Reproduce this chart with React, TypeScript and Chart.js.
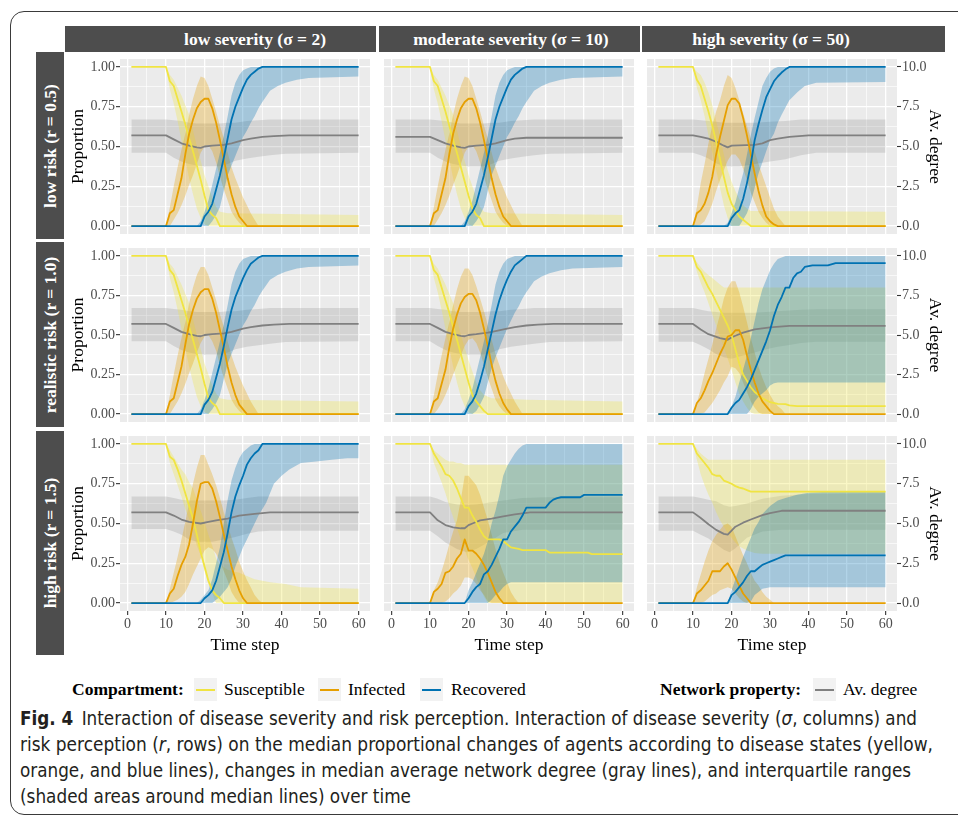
import React, { useEffect, useLayoutEffect, useRef } from "react";
import { Chart, registerables } from "chart.js";
Chart.register(...registerables);

type P = [number, number];
type B = [number, number, number];

// ---------- labels / ticks ----------
const COLUMN_LABELS = ["low severity (σ = 2)", "moderate severity (σ = 10)", "high severity (σ = 50)"];
const ROW_LABELS = ["low risk (r = 0.5)", "realistic risk (r = 1.0)", "high risk (r = 1.5)"];
const X_MAJOR = [0, 10, 20, 30, 40, 50, 60];
const X_MINOR = [5, 15, 25, 35, 45, 55];
const X_TICK_LABELS = ["0", "10", "20", "30", "40", "50", "60"];
const Y_MAJOR = [0, 0.25, 0.5, 0.75, 1];
const Y_MINOR = [0.125, 0.375, 0.625, 0.875];
const Y_TICK_LABELS = ["0.00", "0.25", "0.50", "0.75", "1.00"];
const Y2_MAJOR = [0, 2.5, 5, 7.5, 10];
const Y2_TICK_LABELS = ["0.0", "2.5", "5.0", "7.5", "10.0"];
const X_TITLE = "Time step";
const Y_TITLE = "Proportion";
const Y2_TITLE = "Av. degree";
const SERIES_NAMES = ["Susceptible", "Infected", "Recovered"];
const NETWORK_NAMES = ["Av. degree"];

// ---------- panel r = 0.5, sigma = 2 ----------
const S_r05_s2: P[] = [[1,1],[10,1],[11,0.91],[12,0.88],[13,0.8],[14,0.72],[15,0.64],[16,0.55],[17,0.47],[18,0.38],[19,0.29],[20,0.19],[21,0.1],[22,0.07],[23,0.05],[24,0],[60,0]];
const Sb_r05_s2: B[] = [[1,1,1],[10,1,1],[11,0.86,0.95],[12,0.77,0.92],[13,0.66,0.87],[14,0.54,0.82],[15,0.42,0.76],[16,0.3,0.7],[17,0.2,0.6],[18,0.11,0.5],[19,0.05,0.41],[20,0.01,0.32],[21,0,0.25],[22,0,0.18],[23,0,0.12],[24,0,0.09],[26,0,0.08],[60,0,0.07]];
const I_r05_s2: P[] = [[1,0],[10,0],[11,0.08],[12,0.1],[13,0.2],[14,0.3],[15,0.45],[16,0.58],[17,0.67],[18,0.74],[19,0.78],[20,0.8],[21,0.8],[22,0.74],[23,0.65],[24,0.54],[25,0.42],[26,0.3],[27,0.2],[28,0.12],[29,0.06],[30,0.03],[31,0],[60,0]];
const Ib_r05_s2: B[] = [[1,0,0],[10,0,0],[11,0,0.12],[12,0.04,0.25],[13,0.08,0.37],[14,0.13,0.48],[15,0.19,0.58],[16,0.26,0.7],[17,0.32,0.8],[18,0.39,0.88],[19,0.46,0.94],[20,0.5,0.93],[21,0.51,0.88],[22,0.47,0.8],[23,0.4,0.72],[24,0.31,0.63],[25,0.23,0.55],[26,0.16,0.46],[27,0.09,0.37],[28,0.05,0.3],[29,0.02,0.24],[30,0,0.18],[31,0,0.13],[32,0,0.08],[33,0,0.04],[34,0,0],[60,0,0]];
const R_r05_s2: P[] = [[1,0],[19,0],[20,0.06],[21,0.09],[22,0.14],[23,0.23],[24,0.32],[25,0.43],[26,0.55],[27,0.67],[28,0.75],[29,0.81],[30,0.87],[31,0.92],[32,0.95],[33,0.97],[34,0.99],[35,1],[60,1]];
const Rb_r05_s2: B[] = [[1,0,0],[18,0,0],[19,0,0.03],[20,0,0.09],[21,0,0.16],[22,0.03,0.26],[23,0.07,0.36],[24,0.12,0.46],[25,0.22,0.57],[26,0.32,0.69],[27,0.38,0.82],[28,0.44,0.9],[29,0.5,0.95],[30,0.56,0.98],[31,0.6,0.99],[32,0.65,1],[33,0.69,1],[34,0.74,1],[35,0.78,1],[37,0.85,1],[39,0.88,1],[41,0.9,1],[44,0.92,1],[47,0.93,1],[60,0.94,1]];
const D_r05_s2: P[] = [[1,5.7],[10,5.7],[12,5.45],[14,5.2],[16,5.05],[18,4.95],[19,4.92],[20,5.0],[22,5.05],[25,5.1],[27,5.2],[30,5.4],[32,5.5],[35,5.6],[38,5.65],[42,5.7],[60,5.7]];
const Db_r05_s2: B[] = [[1,4.6,6.7],[10,4.6,6.7],[12,4.3,6.65],[14,4.05,6.6],[16,3.9,6.5],[18,3.8,6.45],[20,3.75,6.45],[24,3.75,6.45],[26,3.9,6.5],[28,4.1,6.5],[31,4.25,6.6],[34,4.35,6.65],[37,4.45,6.7],[41,4.55,6.7],[60,4.6,6.7]];

// ---------- panel r = 0.5, sigma = 10 ----------
const S_r05_s10: P[] = [[1,1],[10,1],[11,0.91],[12,0.88],[13,0.8],[14,0.72],[15,0.63],[16,0.54],[17,0.46],[18,0.37],[19,0.28],[20,0.19],[21,0.11],[22,0.07],[23,0.05],[24,0],[60,0]];
const Sb_r05_s10: B[] = [[1,1,1],[10,1,1],[11,0.86,0.95],[12,0.77,0.92],[13,0.66,0.87],[14,0.54,0.82],[15,0.42,0.76],[16,0.3,0.7],[17,0.2,0.6],[18,0.11,0.5],[19,0.05,0.41],[20,0.01,0.32],[21,0,0.25],[22,0,0.18],[23,0,0.12],[24,0,0.09],[26,0,0.08],[60,0,0.07]];
const I_r05_s10: P[] = [[1,0],[10,0],[11,0.08],[12,0.1],[13,0.2],[14,0.3],[15,0.45],[16,0.58],[17,0.67],[18,0.74],[19,0.78],[20,0.8],[21,0.8],[22,0.74],[23,0.65],[24,0.54],[25,0.42],[26,0.3],[27,0.2],[28,0.12],[29,0.06],[30,0.03],[31,0],[60,0]];
const Ib_r05_s10: B[] = [[1,0,0],[10,0,0],[11,0,0.12],[12,0.04,0.25],[13,0.08,0.37],[14,0.13,0.48],[15,0.19,0.58],[16,0.26,0.7],[17,0.32,0.8],[18,0.39,0.88],[19,0.46,0.94],[20,0.5,0.93],[21,0.51,0.88],[22,0.47,0.8],[23,0.4,0.72],[24,0.31,0.63],[25,0.23,0.55],[26,0.16,0.46],[27,0.09,0.37],[28,0.05,0.3],[29,0.02,0.24],[30,0,0.18],[31,0,0.13],[32,0,0.08],[33,0,0.04],[34,0,0],[60,0,0]];
const R_r05_s10: P[] = [[1,0],[19,0],[20,0.06],[21,0.09],[22,0.14],[23,0.23],[24,0.32],[25,0.43],[26,0.55],[27,0.67],[28,0.75],[29,0.81],[30,0.87],[31,0.92],[32,0.95],[33,0.97],[34,0.99],[35,1],[60,1]];
const Rb_r05_s10: B[] = [[1,0,0],[18,0,0],[19,0,0.03],[20,0,0.09],[21,0,0.16],[22,0.03,0.26],[23,0.07,0.36],[24,0.12,0.46],[25,0.22,0.57],[26,0.32,0.69],[27,0.38,0.82],[28,0.44,0.9],[29,0.5,0.95],[30,0.56,0.98],[31,0.6,0.99],[32,0.65,1],[33,0.69,1],[34,0.74,1],[35,0.78,1],[37,0.85,1],[39,0.88,1],[41,0.9,1],[44,0.92,1],[47,0.93,1],[60,0.94,1]];
const D_r05_s10: P[] = [[1,5.6],[10,5.6],[12,5.4],[14,5.2],[16,5.05],[18,4.95],[19,4.92],[20,5.0],[22,5.05],[25,5.1],[27,5.2],[30,5.4],[32,5.5],[35,5.55],[60,5.55]];
const Db_r05_s10: B[] = [[1,4.6,6.7],[10,4.6,6.7],[12,4.3,6.65],[14,4.05,6.6],[16,3.9,6.5],[18,3.8,6.45],[20,3.75,6.45],[24,3.75,6.45],[26,3.9,6.5],[28,4.1,6.5],[31,4.25,6.6],[34,4.35,6.65],[37,4.45,6.7],[41,4.55,6.7],[60,4.6,6.7]];

// ---------- panel r = 0.5, sigma = 50 ----------
const S_r05_s50: P[] = [[1,1],[10,1],[11,0.92],[12,0.88],[13,0.8],[14,0.72],[15,0.63],[16,0.53],[17,0.42],[18,0.31],[19,0.21],[20,0.14],[21,0.1],[22,0.06],[23,0.04],[24,0.02],[25,0],[60,0]];
const Sb_r05_s50: B[] = [[1,1,1],[10,1,1],[11,0.87,0.97],[12,0.79,0.95],[13,0.69,0.9],[14,0.57,0.84],[15,0.46,0.76],[16,0.35,0.66],[17,0.24,0.56],[18,0.13,0.45],[19,0.05,0.35],[20,0,0.28],[21,0,0.22],[22,0,0.17],[23,0,0.13],[24,0,0.11],[25,0,0.095],[60,0,0.09]];
const I_r05_s50: P[] = [[1,0],[10,0],[11,0.08],[12,0.1],[13,0.14],[14,0.21],[15,0.31],[16,0.45],[17,0.56],[18,0.66],[19,0.76],[20,0.8],[21,0.8],[22,0.77],[23,0.68],[24,0.57],[25,0.45],[26,0.33],[27,0.22],[28,0.13],[29,0.06],[30,0.03],[31,0.01],[32,0],[60,0]];
const Ib_r05_s50: B[] = [[1,0,0],[10,0,0],[11,0,0.12],[12,0.01,0.27],[13,0.03,0.39],[14,0.08,0.52],[15,0.14,0.63],[16,0.22,0.72],[17,0.29,0.79],[18,0.35,0.88],[19,0.41,0.95],[20,0.45,0.93],[21,0.45,0.87],[22,0.42,0.79],[23,0.36,0.71],[24,0.29,0.63],[25,0.21,0.55],[26,0.15,0.47],[27,0.09,0.39],[28,0.05,0.32],[29,0.02,0.25],[30,0,0.18],[31,0,0.11],[32,0,0.06],[33,0,0.03],[34,0,0],[60,0,0]];
const R_r05_s50: P[] = [[1,0],[19,0],[20,0.05],[21,0.08],[22,0.1],[23,0.17],[24,0.27],[25,0.39],[26,0.54],[27,0.64],[28,0.73],[29,0.81],[30,0.86],[31,0.91],[32,0.94],[33,0.965],[34,0.985],[35,1],[60,1]];
const Rb_r05_s50: B[] = [[1,0,0],[18,0,0],[19,0,0.02],[20,0,0.08],[21,0,0.15],[22,0,0.24],[23,0.04,0.33],[24,0.08,0.45],[25,0.15,0.57],[26,0.24,0.68],[27,0.33,0.78],[28,0.4,0.88],[29,0.47,0.93],[30,0.54,0.97],[31,0.58,0.99],[32,0.65,1],[33,0.7,1],[35,0.79,1],[37,0.84,1],[39,0.88,1],[42,0.9,1],[60,0.906,1]];
const D_r05_s50: P[] = [[1,5.7],[10,5.7],[12,5.6],[14,5.5],[16,5.3],[18,5.05],[19,4.95],[20,5.05],[22,5.07],[26,5.1],[28,5.2],[30,5.4],[32,5.5],[35,5.6],[40,5.7],[60,5.7]];
const Db_r05_s50: B[] = [[1,4.6,6.7],[10,4.6,6.7],[12,4.45,6.65],[14,4.25,6.6],[16,3.95,6.55],[18,3.75,6.5],[22,3.75,6.5],[26,3.9,6.5],[30,4.05,6.55],[34,4.2,6.6],[38,4.45,6.7],[42,4.6,6.7],[60,4.6,6.7]];

// ---------- panel r = 1.0, sigma = 2 ----------
const S_r10_s2: P[] = [[1,1],[10,1],[11,0.91],[12,0.88],[13,0.8],[14,0.72],[15,0.64],[16,0.55],[17,0.47],[18,0.38],[19,0.29],[20,0.19],[21,0.1],[22,0.07],[23,0.05],[24,0],[60,0]];
const Sb_r10_s2: B[] = [[1,1,1],[10,1,1],[11,0.86,0.95],[12,0.77,0.92],[13,0.66,0.87],[14,0.54,0.82],[15,0.42,0.76],[16,0.3,0.7],[17,0.2,0.6],[18,0.11,0.5],[19,0.05,0.41],[20,0.01,0.32],[21,0,0.25],[22,0,0.18],[23,0,0.13],[24,0,0.1],[26,0,0.09],[60,0,0.08]];
const I_r10_s2: P[] = [[1,0],[10,0],[11,0.08],[12,0.1],[13,0.2],[14,0.3],[15,0.44],[16,0.57],[17,0.66],[18,0.73],[19,0.77],[20,0.79],[21,0.79],[22,0.73],[23,0.64],[24,0.53],[25,0.42],[26,0.3],[27,0.2],[28,0.12],[29,0.06],[30,0.03],[31,0],[60,0]];
const Ib_r10_s2: B[] = [[1,0,0],[10,0,0],[11,0,0.12],[12,0.04,0.25],[13,0.08,0.37],[14,0.13,0.48],[15,0.19,0.58],[16,0.26,0.7],[17,0.32,0.8],[18,0.39,0.88],[19,0.45,0.93],[20,0.49,0.93],[21,0.5,0.88],[22,0.46,0.8],[23,0.4,0.72],[24,0.31,0.63],[25,0.23,0.55],[26,0.16,0.46],[27,0.09,0.37],[28,0.05,0.3],[29,0.02,0.24],[30,0,0.18],[31,0,0.13],[32,0,0.08],[33,0,0.04],[34,0,0],[60,0,0]];
const R_r10_s2: P[] = [[1,0],[19,0],[20,0.06],[21,0.09],[22,0.14],[23,0.23],[24,0.32],[25,0.43],[26,0.55],[27,0.66],[28,0.74],[29,0.8],[30,0.86],[31,0.91],[32,0.95],[33,0.97],[34,0.99],[35,1],[60,1]];
const Rb_r10_s2: B[] = [[1,0,0],[18,0,0],[19,0,0.03],[20,0,0.09],[21,0,0.16],[22,0.03,0.26],[23,0.07,0.36],[24,0.12,0.46],[25,0.22,0.57],[26,0.32,0.69],[27,0.38,0.82],[28,0.44,0.9],[29,0.5,0.95],[30,0.56,0.98],[31,0.6,0.99],[32,0.65,1],[33,0.69,1],[34,0.74,1],[35,0.78,1],[37,0.85,1],[39,0.88,1],[41,0.9,1],[44,0.92,1],[47,0.93,1],[60,0.94,1]];
const D_r10_s2: P[] = [[1,5.7],[10,5.7],[12,5.45],[14,5.2],[16,5.05],[18,4.95],[19,4.92],[20,5.0],[22,5.05],[25,5.1],[27,5.2],[30,5.4],[32,5.5],[35,5.6],[38,5.65],[42,5.7],[60,5.7]];
const Db_r10_s2: B[] = [[1,4.6,6.7],[10,4.6,6.7],[12,4.3,6.65],[14,4.05,6.6],[16,3.9,6.5],[18,3.8,6.45],[20,3.75,6.45],[24,3.75,6.45],[26,3.9,6.5],[28,4.1,6.5],[31,4.25,6.6],[34,4.35,6.65],[37,4.45,6.7],[41,4.55,6.7],[60,4.6,6.7]];

// ---------- panel r = 1.0, sigma = 10 ----------
const S_r10_s10: P[] = [[1,1],[10,1],[11,0.91],[12,0.88],[13,0.8],[14,0.72],[15,0.64],[16,0.55],[17,0.47],[18,0.38],[19,0.29],[20,0.2],[21,0.12],[22,0.08],[23,0.05],[24,0.02],[25,0],[60,0]];
const Sb_r10_s10: B[] = [[1,1,1],[10,1,1],[11,0.86,0.95],[12,0.77,0.92],[13,0.66,0.87],[14,0.54,0.82],[15,0.42,0.76],[16,0.3,0.7],[17,0.2,0.6],[18,0.11,0.5],[19,0.05,0.42],[20,0.01,0.34],[21,0,0.27],[22,0,0.2],[23,0,0.15],[24,0,0.12],[26,0,0.1],[35,0,0.09],[60,0,0.08]];
const I_r10_s10: P[] = [[1,0],[10,0],[11,0.08],[12,0.1],[13,0.19],[14,0.28],[15,0.42],[16,0.54],[17,0.63],[18,0.7],[19,0.74],[20,0.76],[21,0.76],[22,0.72],[23,0.64],[24,0.54],[25,0.43],[26,0.31],[27,0.21],[28,0.13],[29,0.07],[30,0.03],[31,0],[60,0]];
const Ib_r10_s10: B[] = [[1,0,0],[10,0,0],[11,0,0.12],[12,0.03,0.25],[13,0.07,0.37],[14,0.12,0.48],[15,0.18,0.58],[16,0.25,0.69],[17,0.31,0.79],[18,0.37,0.87],[19,0.43,0.92],[20,0.47,0.92],[21,0.48,0.88],[22,0.45,0.81],[23,0.39,0.73],[24,0.31,0.65],[25,0.23,0.56],[26,0.16,0.47],[27,0.09,0.38],[28,0.05,0.31],[29,0.02,0.24],[30,0,0.18],[31,0,0.13],[32,0,0.08],[33,0,0.04],[34,0,0],[60,0,0]];
const R_r10_s10: P[] = [[1,0],[19,0],[20,0.05],[21,0.08],[22,0.13],[23,0.21],[24,0.3],[25,0.41],[26,0.52],[27,0.63],[28,0.72],[29,0.79],[30,0.85],[31,0.9],[32,0.94],[33,0.96],[34,0.98],[35,1],[60,1]];
const Rb_r10_s10: B[] = [[1,0,0],[18,0,0],[19,0,0.03],[20,0,0.09],[21,0,0.16],[22,0.02,0.26],[23,0.06,0.36],[24,0.11,0.46],[25,0.2,0.57],[26,0.29,0.69],[27,0.36,0.82],[28,0.42,0.9],[29,0.48,0.95],[30,0.54,0.98],[31,0.59,0.99],[32,0.64,1],[33,0.68,1],[34,0.73,1],[35,0.77,1],[37,0.84,1],[39,0.87,1],[41,0.89,1],[44,0.91,1],[47,0.92,1],[60,0.93,1]];
const D_r10_s10: P[] = [[1,5.7],[10,5.7],[12,5.45],[14,5.2],[16,5.05],[18,4.95],[19,4.92],[20,5.0],[22,5.05],[25,5.15],[27,5.25],[30,5.4],[32,5.5],[35,5.6],[38,5.65],[42,5.7],[60,5.7]];
const Db_r10_s10: B[] = [[1,4.6,6.7],[10,4.6,6.7],[12,4.3,6.65],[14,4.05,6.6],[16,3.9,6.5],[18,3.8,6.45],[20,3.75,6.45],[24,3.75,6.45],[26,3.9,6.5],[28,4.1,6.5],[31,4.25,6.6],[34,4.35,6.65],[37,4.45,6.7],[41,4.55,6.7],[60,4.6,6.7]];

// ---------- panel r = 1.0, sigma = 50 ----------
const S_r10_s50: P[] = [[1,1],[10,1],[11,0.93],[12,0.9],[13,0.85],[14,0.8],[15,0.76],[16,0.71],[17,0.66],[18,0.61],[19,0.56],[20,0.5],[21,0.41],[22,0.32],[23,0.25],[24,0.21],[25,0.17],[26,0.14],[27,0.12],[28,0.1],[30,0.075],[32,0.065],[34,0.063],[35,0.055],[37,0.05],[60,0.05]];
const Sb_r10_s50: B[] = [[1,1,1],[10,1,1],[11,0.9,0.96],[12,0.83,0.93],[13,0.77,0.9],[14,0.7,0.88],[15,0.63,0.86],[16,0.56,0.84],[17,0.49,0.82],[18,0.42,0.8],[19,0.35,0.8],[20,0.28,0.8],[21,0.2,0.8],[22,0.13,0.8],[23,0.08,0.8],[24,0.04,0.8],[25,0.01,0.8],[26,0,0.8],[60,0,0.8]];
const I_r10_s50: P[] = [[1,0],[10,0],[11,0.07],[12,0.1],[13,0.15],[14,0.21],[15,0.26],[16,0.32],[17,0.38],[18,0.43],[19,0.49],[20,0.5],[21,0.53],[22,0.53],[23,0.47],[24,0.37],[25,0.28],[26,0.2],[27,0.13],[28,0.08],[29,0.05],[30,0.02],[31,0],[60,0]];
const Ib_r10_s50: B[] = [[1,0,0],[10,0,0],[11,0,0.07],[12,0,0.16],[13,0.01,0.26],[14,0.04,0.35],[15,0.07,0.44],[16,0.11,0.54],[17,0.15,0.63],[18,0.2,0.73],[19,0.24,0.8],[20,0.3,0.84],[21,0.29,0.84],[22,0.26,0.77],[23,0.2,0.68],[24,0.14,0.58],[25,0.08,0.48],[26,0.04,0.39],[27,0.01,0.3],[28,0,0.23],[29,0,0.17],[30,0,0.12],[31,0,0.08],[32,0,0.05],[33,0,0.03],[34,0,0],[60,0,0]];
const R_r10_s50: P[] = [[1,0],[19,0],[20,0.04],[21,0.07],[22,0.09],[23,0.13],[24,0.17],[25,0.22],[26,0.28],[27,0.34],[28,0.4],[29,0.46],[30,0.53],[31,0.62],[32,0.69],[33,0.74],[34,0.8],[35,0.8],[36,0.86],[37,0.89],[38,0.9],[39,0.93],[41,0.94],[45,0.94],[47,0.955],[60,0.955]];
const Rb_r10_s50: B[] = [[1,0,0],[19,0,0],[20,0,0.05],[21,0,0.11],[22,0,0.2],[23,0,0.28],[24,0,0.37],[25,0.03,0.48],[26,0.08,0.59],[27,0.11,0.7],[28,0.13,0.79],[29,0.15,0.85],[30,0.18,0.91],[31,0.195,0.95],[32,0.2,0.98],[34,0.2,1],[60,0.2,1]];
const D_r10_s50: P[] = [[1,5.7],[10,5.7],[12,5.35],[14,5.05],[17,4.8],[19,4.7],[20,4.85],[21,4.95],[23,5.15],[26,5.35],[30,5.48],[35,5.58],[60,5.58]];
const Db_r10_s50: B[] = [[1,4.58,6.7],[10,4.58,6.7],[12,4.35,6.6],[14,4.1,6.5],[16,3.8,6.45],[18,3.6,6.4],[20,3.5,6.4],[23,3.7,6.4],[26,3.9,6.4],[29,4.1,6.45],[32,4.25,6.5],[35,4.37,6.55],[38,4.5,6.6],[42,4.58,6.62],[60,4.58,6.62]];

// ---------- panel r = 1.5, sigma = 2 ----------
const S_r15_s2: P[] = [[1,1],[10,1],[11,0.92],[12,0.9],[13,0.84],[14,0.77],[15,0.69],[16,0.61],[17,0.53],[18,0.43],[19,0.32],[20,0.23],[21,0.14],[22,0.08],[23,0.05],[24,0.03],[25,0],[60,0]];
const Sb_r15_s2: B[] = [[1,1,1],[10,1,1],[11,0.88,0.96],[12,0.81,0.92],[13,0.74,0.88],[14,0.67,0.84],[15,0.59,0.81],[16,0.53,0.76],[17,0.45,0.72],[18,0.36,0.65],[19,0.3,0.58],[20,0.2,0.51],[21,0.12,0.43],[22,0.06,0.36],[23,0,0.28],[24,0,0.24],[26,0,0.21],[29,0,0.19],[33,0,0.15],[37,0,0.13],[41,0,0.12],[45,0,0.1],[60,0,0.09]];
const I_r15_s2: P[] = [[1,0],[10,0],[11,0.06],[12,0.09],[13,0.17],[14,0.24],[15,0.29],[16,0.37],[17,0.5],[18,0.64],[19,0.75],[20,0.76],[21,0.76],[22,0.72],[23,0.64],[24,0.54],[25,0.43],[26,0.33],[27,0.23],[28,0.15],[29,0.08],[30,0.03],[31,0],[60,0]];
const Ib_r15_s2: B[] = [[1,0,0],[10,0,0],[11,0,0.09],[12,0.01,0.19],[13,0.02,0.29],[14,0.04,0.4],[15,0.07,0.51],[16,0.12,0.63],[17,0.18,0.75],[18,0.23,0.85],[19,0.28,0.93],[20,0.33,0.93],[21,0.35,0.87],[22,0.34,0.81],[23,0.31,0.74],[24,0.26,0.66],[25,0.2,0.57],[26,0.14,0.49],[27,0.07,0.41],[28,0.03,0.34],[29,0,0.26],[30,0,0.2],[31,0,0.145],[32,0,0.1],[33,0,0.05],[34,0,0.02],[35,0,0],[60,0,0]];
const R_r15_s2: P[] = [[1,0],[19,0],[20,0.03],[21,0.05],[22,0.08],[23,0.14],[24,0.23],[25,0.32],[26,0.44],[27,0.57],[28,0.67],[29,0.74],[30,0.8],[31,0.87],[32,0.91],[33,0.94],[34,0.96],[35,1],[60,1]];
const Rb_r15_s2: B[] = [[1,0,0],[18,0,0],[19,0,0.02],[20,0,0.05],[21,0,0.08],[22,0,0.15],[23,0.02,0.25],[24,0.04,0.35],[25,0.07,0.5],[26,0.1,0.65],[27,0.15,0.77],[28,0.23,0.85],[29,0.29,0.91],[30,0.35,0.95],[31,0.4,0.97],[32,0.45,0.99],[33,0.5,1],[34,0.55,1],[36,0.63,1],[38,0.75,1],[40,0.8,1],[42,0.84,1],[45,0.88,1],[49,0.89,1],[53,0.9,1],[57,0.91,1],[60,0.91,1]];
const D_r15_s2: P[] = [[1,5.7],[10,5.7],[12,5.5],[14,5.25],[16,5.1],[19,5.0],[21,5.1],[23,5.2],[26,5.3],[29,5.5],[33,5.6],[37,5.7],[60,5.7]];
const Db_r15_s2: B[] = [[1,4.65,6.7],[10,4.65,6.7],[12,4.5,6.6],[14,4.3,6.5],[16,4.0,6.45],[18,3.85,6.45],[22,3.85,6.45],[25,4.0,6.45],[28,4.15,6.5],[31,4.35,6.6],[34,4.5,6.7],[37,4.55,6.7],[60,4.55,6.7]];

// ---------- panel r = 1.5, sigma = 10 ----------
const S_r15_s10: P[] = [[1,1],[10,1],[11,0.94],[12,0.9],[13,0.86],[14,0.81],[15,0.8],[16,0.77],[17,0.72],[18,0.66],[19,0.6],[20,0.6],[21,0.55],[22,0.51],[23,0.46],[24,0.42],[25,0.4],[28,0.4],[29,0.39],[30,0.37],[31,0.35],[33,0.34],[34,0.333],[40,0.333],[41,0.317],[51,0.317],[52,0.308],[60,0.308]];
const Sb_r15_s10: B[] = [[1,1,1],[10,1,1],[11,0.88,0.96],[12,0.82,0.94],[13,0.76,0.92],[14,0.69,0.9],[15,0.61,0.89],[16,0.54,0.89],[17,0.47,0.88],[18,0.4,0.88],[19,0.33,0.87],[20,0.27,0.87],[21,0.22,0.87],[22,0.16,0.87],[23,0.1,0.87],[24,0.04,0.87],[25,0,0.87],[60,0,0.87]];
const I_r15_s10: P[] = [[1,0],[10,0],[11,0.07],[12,0.09],[13,0.12],[14,0.19],[15,0.2],[16,0.23],[17,0.28],[18,0.31],[19,0.4],[20,0.33],[21,0.33],[22,0.31],[23,0.28],[24,0.24],[25,0.19],[26,0.13],[27,0.07],[28,0.03],[29,0],[60,0]];
const Ib_r15_s10: B[] = [[1,0,0],[10,0,0],[11,0,0.08],[12,0,0.13],[13,0,0.2],[14,0.01,0.28],[15,0.03,0.37],[16,0.06,0.45],[17,0.08,0.52],[18,0.11,0.65],[19,0.16,0.8],[20,0.16,0.8],[21,0.15,0.77],[22,0.12,0.74],[23,0.08,0.68],[24,0.05,0.6],[25,0.01,0.52],[26,0,0.43],[27,0,0.34],[28,0,0.26],[29,0,0.19],[30,0,0.13],[31,0,0.07],[32,0,0.03],[33,0,0],[60,0,0]];
const R_r15_s10: P[] = [[1,0],[19,0],[20,0.03],[21,0.07],[22,0.1],[23,0.12],[24,0.18],[25,0.2],[26,0.24],[27,0.29],[28,0.34],[29,0.4],[30,0.4],[31,0.45],[32,0.48],[33,0.51],[34,0.55],[35,0.6],[40,0.6],[41,0.63],[42,0.65],[43,0.66],[44,0.665],[49,0.665],[50,0.68],[60,0.68]];
const Rb_r15_s10: B[] = [[1,0,0],[19,0,0],[20,0,0.08],[21,0,0.13],[22,0,0.19],[23,0,0.25],[24,0,0.31],[25,0,0.39],[26,0.02,0.5],[27,0.05,0.58],[28,0.07,0.68],[29,0.1,0.8],[30,0.12,0.86],[31,0.13,0.9],[32,0.13,0.94],[33,0.13,0.97],[34,0.13,0.99],[35,0.13,1],[60,0.13,1]];
const D_r15_s10: P[] = [[1,5.7],[10,5.7],[12,5.2],[14,4.9],[16,4.76],[18,4.7],[19,4.7],[20,4.9],[21,5.0],[23,5.2],[26,5.3],[29,5.45],[32,5.58],[36,5.7],[60,5.7]];
const Db_r15_s10: B[] = [[1,4.55,6.7],[10,4.55,6.7],[12,4.2,6.55],[14,3.8,6.35],[17,3.4,6.2],[19.5,3.2,6.15],[22,3.4,6.2],[25,3.8,6.3],[29,4.4,6.45],[34,4.6,6.6],[40,4.6,6.65],[60,4.6,6.65]];

// ---------- panel r = 1.5, sigma = 50 ----------
const S_r15_s50: P[] = [[1,1],[10,1],[11,0.94],[12,0.91],[13,0.88],[14,0.85],[15,0.81],[16,0.8],[17,0.8],[18,0.77],[19,0.76],[20,0.75],[21,0.735],[22,0.725],[23,0.72],[24,0.71],[25,0.7],[60,0.7]];
const Sb_r15_s50: B[] = [[1,1,1],[10,1,1],[11,0.9,0.97],[12,0.81,0.94],[13,0.74,0.92],[14,0.68,0.9],[15,0.63,0.9],[16,0.57,0.9],[17,0.52,0.9],[18,0.48,0.9],[19,0.44,0.9],[20,0.41,0.9],[21,0.38,0.9],[22,0.355,0.9],[24,0.33,0.9],[26,0.315,0.9],[28,0.31,0.9],[60,0.31,0.9]];
const I_r15_s50: P[] = [[1,0],[10,0],[11,0.06],[12,0.08],[13,0.11],[14,0.14],[15,0.2],[16,0.2],[17,0.2],[18,0.23],[19,0.25],[20,0.21],[21,0.16],[22,0.11],[23,0.06],[24,0.03],[25,0],[60,0]];
const Ib_r15_s50: B[] = [[1,0,0],[10,0,0],[11,0,0.1],[12,0,0.18],[13,0.01,0.26],[14,0.03,0.33],[15,0.05,0.39],[16,0.06,0.43],[17,0.08,0.46],[18,0.09,0.49],[19,0.1,0.5],[20,0.09,0.48],[21,0.06,0.42],[22,0.03,0.36],[23,0.01,0.3],[24,0,0.25],[25,0,0.19],[26,0,0.14],[27,0,0.11],[28,0,0.07],[29,0,0.04],[30,0,0.02],[31,0,0],[60,0,0]];
const R_r15_s50: P[] = [[1,0],[19,0],[20,0.05],[21,0.07],[22,0.1],[23,0.13],[24,0.17],[25,0.2],[26,0.2],[27,0.22],[28,0.24],[29,0.25],[30,0.26],[31,0.27],[32,0.28],[33,0.29],[34,0.3],[60,0.3]];
const Rb_r15_s50: B[] = [[1,0,0],[19,0,0],[20,0,0.08],[21,0,0.15],[22,0,0.22],[23,0,0.29],[24,0,0.35],[25,0.01,0.41],[26,0.05,0.47],[27,0.07,0.51],[28,0.09,0.56],[29,0.095,0.585],[30,0.1,0.61],[32,0.1,0.645],[34,0.1,0.66],[37,0.1,0.68],[40,0.1,0.694],[45,0.1,0.7],[60,0.1,0.7]];
const D_r15_s50: P[] = [[1,5.7],[10,5.7],[12,5.35],[14,4.95],[16,4.6],[18,4.35],[19,4.3],[20,4.55],[21,4.8],[23,5.05],[25,5.25],[28,5.53],[30,5.65],[32,5.75],[33,5.8],[60,5.8]];
const Db_r15_s50: B[] = [[1,4.55,6.7],[10,4.55,6.7],[12,4.3,6.6],[14,4.05,6.5],[16,3.7,6.4],[18,3.35,6.15],[19.5,3.2,6.05],[21,3.45,6.1],[24,4.1,6.25],[28,4.5,6.55],[33,4.6,6.75],[40,4.6,6.85],[60,4.6,6.9]];

// ---------- table built from the arrays ----------
type PanelData = { S: P[]; Sb: B[]; I: P[]; Ib: B[]; R: P[]; Rb: B[]; D: P[]; Db: B[] };
const PANELS: PanelData[][] = [
  [
    { S: S_r05_s2, Sb: Sb_r05_s2, I: I_r05_s2, Ib: Ib_r05_s2, R: R_r05_s2, Rb: Rb_r05_s2, D: D_r05_s2, Db: Db_r05_s2 },
    { S: S_r05_s10, Sb: Sb_r05_s10, I: I_r05_s10, Ib: Ib_r05_s10, R: R_r05_s10, Rb: Rb_r05_s10, D: D_r05_s10, Db: Db_r05_s10 },
    { S: S_r05_s50, Sb: Sb_r05_s50, I: I_r05_s50, Ib: Ib_r05_s50, R: R_r05_s50, Rb: Rb_r05_s50, D: D_r05_s50, Db: Db_r05_s50 },
  ],
  [
    { S: S_r10_s2, Sb: Sb_r10_s2, I: I_r10_s2, Ib: Ib_r10_s2, R: R_r10_s2, Rb: Rb_r10_s2, D: D_r10_s2, Db: Db_r10_s2 },
    { S: S_r10_s10, Sb: Sb_r10_s10, I: I_r10_s10, Ib: Ib_r10_s10, R: R_r10_s10, Rb: Rb_r10_s10, D: D_r10_s10, Db: Db_r10_s10 },
    { S: S_r10_s50, Sb: Sb_r10_s50, I: I_r10_s50, Ib: Ib_r10_s50, R: R_r10_s50, Rb: Rb_r10_s50, D: D_r10_s50, Db: Db_r10_s50 },
  ],
  [
    { S: S_r15_s2, Sb: Sb_r15_s2, I: I_r15_s2, Ib: Ib_r15_s2, R: R_r15_s2, Rb: Rb_r15_s2, D: D_r15_s2, Db: Db_r15_s2 },
    { S: S_r15_s10, Sb: Sb_r15_s10, I: I_r15_s10, Ib: Ib_r15_s10, R: R_r15_s10, Rb: Rb_r15_s10, D: D_r15_s10, Db: Db_r15_s10 },
    { S: S_r15_s50, Sb: Sb_r15_s50, I: I_r15_s50, Ib: Ib_r15_s50, R: R_r15_s50, Rb: Rb_r15_s50, D: D_r15_s50, Db: Db_r15_s50 },
  ],
];

// ---------- styles ----------
const SERIF = "'Liberation Serif', 'Times New Roman', serif";
const COL_S = "#F0E442";
const COL_I = "#E69F00";
const COL_R = "#0072B2";
const COL_D = "#808080";
const FILL_S = "rgba(240,228,66,0.3)";
const FILL_I = "rgba(230,159,0,0.3)";
const FILL_R = "rgba(0,114,178,0.3)";
const FILL_D = "rgba(128,128,128,0.22)";
const STRIP_BG = "#4D4D4D";

const COLS = [
  { left: 66, width: 304, leftAxis: 54, rightAxis: 0 },
  { left: 384, width: 250, leftAxis: 0, rightAxis: 0 },
  { left: 647, width: 311, leftAxis: 0, rightAxis: 61 },
];
const ROWS = [
  { top: 59, height: 175, bottomAxis: 0 },
  { top: 248, height: 174, bottomAxis: 0 },
  { top: 436, height: 175, bottomAxis: 49 },
];
const COL_STRIPS = [
  { left: 65, width: 311, center: 255 },
  { left: 379, width: 261, center: 511 },
  { left: 642, width: 303, center: 771 },
];
const ROW_STRIPS = [
  { top: 52, height: 187 },
  { top: 242, height: 185 },
  { top: 431, height: 224 },
];

const bgPlugin = {
  id: "panelBg",
  beforeDraw(chart: any) {
    const { ctx, chartArea } = chart;
    ctx.save();
    ctx.fillStyle = "#EBEBEB";
    ctx.fillRect(chartArea.left, chartArea.top, chartArea.right - chartArea.left, chartArea.bottom - chartArea.top);
    ctx.restore();
  },
};

const near = (a: number[], v: number) => a.some((m) => Math.abs(m - v) < 1e-9);

function Panel({ row, col }: { row: number; col: number }) {
  const ref = useRef<HTMLCanvasElement>(null);
  const c = COLS[col];
  const r = ROWS[row];
  useEffect(() => {
    const d = PANELS[row][col];
    const showLeft = col === 0;
    const showRight = col === 2;
    const showX = row === 2;
    const pts = (p: P[]) => p.map(([x, y]) => ({ x, y }));
    const band = (b: B[], color: string, axis: string, order: number) => [
      { data: b.map(([x, lo]) => ({ x, y: lo })), borderWidth: 0, borderColor: "rgba(0,0,0,0)", pointRadius: 0, fill: false, yAxisID: axis, order },
      { data: b.map(([x, , hi]) => ({ x, y: hi })), borderWidth: 0, borderColor: "rgba(0,0,0,0)", pointRadius: 0, fill: "-1", backgroundColor: color, yAxisID: axis, order },
    ];
    const line = (p: P[], color: string, axis: string, order: number) => ({
      data: pts(p), borderColor: color, borderWidth: 1.8, pointRadius: 0, fill: false, tension: 0, yAxisID: axis, order,
      borderJoinStyle: "round" as const, borderCapStyle: "butt" as const,
    });
    const datasets: any[] = [
      ...band(d.Db, FILL_D, "y2", 9),
      ...band(d.Sb, FILL_S, "y", 8),
      ...band(d.Ib, FILL_I, "y", 7),
      ...band(d.Rb, FILL_R, "y", 6),
      line(d.D, COL_D, "y2", 4),
      line(d.S, COL_S, "y", 3),
      line(d.I, COL_I, "y", 2),
      line(d.R, COL_R, "y", 1),
    ];
    const tickFont = { family: SERIF, size: 14 };
    const titleFont = { family: SERIF, size: 17.5 };
    const gridW = (major: number[]) => (ctx: any) => (ctx.tick && near(major, ctx.tick.value) ? 1.3 : 0.65);
    const tickC = (major: number[]) => (ctx: any) => (ctx.tick && near(major, ctx.tick.value) ? "#333333" : "rgba(0,0,0,0)");
    const chart = new Chart(ref.current!, {
      type: "line",
      data: { datasets },
      plugins: [bgPlugin],
      options: {
        animation: false,
        responsive: false,
        devicePixelRatio: 1,
        events: [],
        layout: { padding: 0 },
        plugins: { legend: { display: false }, tooltip: { enabled: false } },
        scales: {
          x: {
            type: "linear",
            min: -1.95,
            max: 62.95,
            afterBuildTicks: (s: any) => { s.ticks = [...X_MAJOR, ...X_MINOR].sort((a, b) => a - b).map((v) => ({ value: v })); },
            afterFit: (s: any) => { s.height = r.bottomAxis; s.paddingLeft = 0; s.paddingRight = 0; },
            border: { display: false },
            grid: { color: "#FFFFFF", lineWidth: gridW(X_MAJOR), drawTicks: showX, tickLength: 4, tickWidth: 1.1, tickColor: tickC(X_MAJOR) },
            ticks: {
              display: showX, autoSkip: false, maxRotation: 0, minRotation: 0, padding: 1, color: "#4D4D4D", font: tickFont,
              callback: (v: any) => { const i = X_MAJOR.indexOf(Number(v)); return i >= 0 ? X_TICK_LABELS[i] : ""; },
            },
            title: { display: showX, text: X_TITLE, color: "#000", font: titleFont, padding: { top: 0, bottom: 4.5 } },
          },
          y: {
            type: "linear",
            position: "left",
            min: -0.05,
            max: 1.05,
            afterBuildTicks: (s: any) => { s.ticks = [...Y_MAJOR, ...Y_MINOR].sort((a, b) => a - b).map((v) => ({ value: v })); },
            afterFit: (s: any) => { s.width = c.leftAxis; s.paddingTop = 0; s.paddingBottom = 0; },
            border: { display: false },
            grid: { color: "#FFFFFF", lineWidth: gridW(Y_MAJOR), drawTicks: showLeft, tickLength: 4, tickWidth: 1.1, tickColor: tickC(Y_MAJOR) },
            ticks: {
              display: showLeft, autoSkip: false, padding: 1, color: "#4D4D4D", font: tickFont,
              callback: (v: any) => { const i = Y_MAJOR.findIndex((m) => Math.abs(m - Number(v)) < 1e-9); return i >= 0 ? Y_TICK_LABELS[i] : ""; },
            },
            title: { display: showLeft, text: Y_TITLE, color: "#000", font: titleFont, padding: { top: 1.5, bottom: 0 } },
          },
          y2: {
            type: "linear",
            position: "right",
            display: showRight,
            min: -0.5,
            max: 10.5,
            afterBuildTicks: (s: any) => { s.ticks = Y2_MAJOR.map((v) => ({ value: v })); },
            afterFit: (s: any) => { s.width = c.rightAxis; s.paddingTop = 0; s.paddingBottom = 0; },
            border: { display: false },
            grid: { drawOnChartArea: false, drawTicks: true, tickLength: 4, tickWidth: 1.1, tickColor: "#333333" },
            ticks: {
              display: true, autoSkip: false, padding: 1, color: "#4D4D4D", font: tickFont,
              callback: (v: any) => { const i = Y2_MAJOR.findIndex((m) => Math.abs(m - Number(v)) < 1e-9); return i >= 0 ? Y2_TICK_LABELS[i] : ""; },
            },
            title: { display: true, text: Y2_TITLE, color: "#000", font: titleFont, padding: { top: 12.5, bottom: 0 } },
          },
        },
      } as any,
    });
    return () => chart.destroy();
  }, [row, col]);
  const h = r.height + r.bottomAxis;
  return (
    <canvas
      ref={ref}
      width={c.width}
      height={h}
      style={{ position: "absolute", left: c.left, top: r.top, width: c.width, height: h }}
    />
  );
}

const CAPTION_TARGETS = [897, 913, 891, 391];
const CAPTION_TOPS = [706, 732, 758, 784];

function Caption() {
  const refs = useRef<(HTMLSpanElement | null)[]>([]);
  useLayoutEffect(() => {
    refs.current.forEach((el, i) => {
      if (!el) return;
      el.style.transform = "none";
      const w = el.getBoundingClientRect().width;
      if (w > 0) el.style.transform = `scaleX(${CAPTION_TARGETS[i] / w})`;
    });
  }, []);
  const style = (i: number): React.CSSProperties => ({
    position: "absolute", left: 20, top: CAPTION_TOPS[i], display: "inline-block", whiteSpace: "nowrap",
    fontFamily: "'Liberation Sans Narrow', 'DejaVu Sans Condensed', 'Liberation Sans', sans-serif",
    fontSize: 19.5, lineHeight: "26px", color: "#231F20", transformOrigin: "0 50%",
  });
  return (
    <>
      <span ref={(e) => { refs.current[0] = e; }} style={style(0)}>
        <b>Fig. 4</b>{"\u2002"}Interaction of disease severity and risk perception. Interaction of disease severity (<i>σ</i>, columns) and
      </span>
      <span ref={(e) => { refs.current[1] = e; }} style={style(1)}>
        risk perception (<i>r</i>, rows) on the median proportional changes of agents according to disease states (yellow,
      </span>
      <span ref={(e) => { refs.current[2] = e; }} style={style(2)}>
        orange, and blue lines), changes in median average network degree (gray lines), and interquartile ranges
      </span>
      <span ref={(e) => { refs.current[3] = e; }} style={style(3)}>
        (shaded areas around median lines) over time
      </span>
    </>
  );
}

function LegendKey({ left, color }: { left: number; color: string }) {
  return (
    <div style={{ position: "absolute", left, top: 678, width: 23, height: 23, background: "#F2F2F2" }}>
      <div style={{ position: "absolute", left: 2, right: 2, top: 10.5, height: 2, background: color }} />
    </div>
  );
}

export default function App() {
  const txt: React.CSSProperties = { position: "absolute", fontFamily: SERIF, fontSize: 17.5, whiteSpace: "nowrap", lineHeight: "22px", top: 678, color: "#000" };
  return (
    <div style={{ position: "fixed", left: 0, top: 0, width: 958, height: 820, overflow: "hidden", background: "#fff" }}>
      <div style={{ position: "absolute", left: 10, top: 11, width: 1100, height: 804, border: "1px solid #3a3a3a", borderRadius: 14, boxSizing: "border-box" }} />
      {COL_STRIPS.map((s, i) => (
        <React.Fragment key={"c" + i}>
          <div style={{ position: "absolute", left: s.left, top: 26, width: s.width, height: 26, background: STRIP_BG }} />
          <div style={{ position: "absolute", left: s.center - 200, width: 400, top: 26, height: 26, lineHeight: "26px", textAlign: "center", color: "#fff", fontFamily: SERIF, fontWeight: "bold", fontSize: 17.5, whiteSpace: "nowrap" }}>
            {COLUMN_LABELS[i]}
          </div>
        </React.Fragment>
      ))}
      {ROW_STRIPS.map((s, i) => (
        <React.Fragment key={"r" + i}>
          <div style={{ position: "absolute", left: 36, top: s.top, width: 28, height: s.height, background: STRIP_BG }} />
          <div style={{ position: "absolute", left: 50 - 150, top: s.top + s.height / 2 - 14, width: 300, height: 28, lineHeight: "28px", textAlign: "center", color: "#fff", fontFamily: SERIF, fontWeight: "bold", fontSize: 17.5, whiteSpace: "nowrap", transform: "rotate(-90deg)" }}>
            {ROW_LABELS[i]}
          </div>
        </React.Fragment>
      ))}
      {[0, 1, 2].map((row) => [0, 1, 2].map((col) => <Panel key={row + "-" + col} row={row} col={col} />))}
      <div style={{ ...txt, left: 72, fontWeight: "bold" }}>Compartment:</div>
      <LegendKey left={194} color={COL_S} />
      <div style={{ ...txt, left: 224 }}>{SERIES_NAMES[0]}</div>
      <LegendKey left={318} color={COL_I} />
      <div style={{ ...txt, left: 348 }}>{SERIES_NAMES[1]}</div>
      <LegendKey left={420} color={COL_R} />
      <div style={{ ...txt, left: 451 }}>{SERIES_NAMES[2]}</div>
      <div style={{ ...txt, left: 660, fontWeight: "bold" }}>Network property:</div>
      <LegendKey left={813} color={COL_D} />
      <div style={{ ...txt, left: 843 }}>{NETWORK_NAMES[0]}</div>
      <Caption />
    </div>
  );
}
